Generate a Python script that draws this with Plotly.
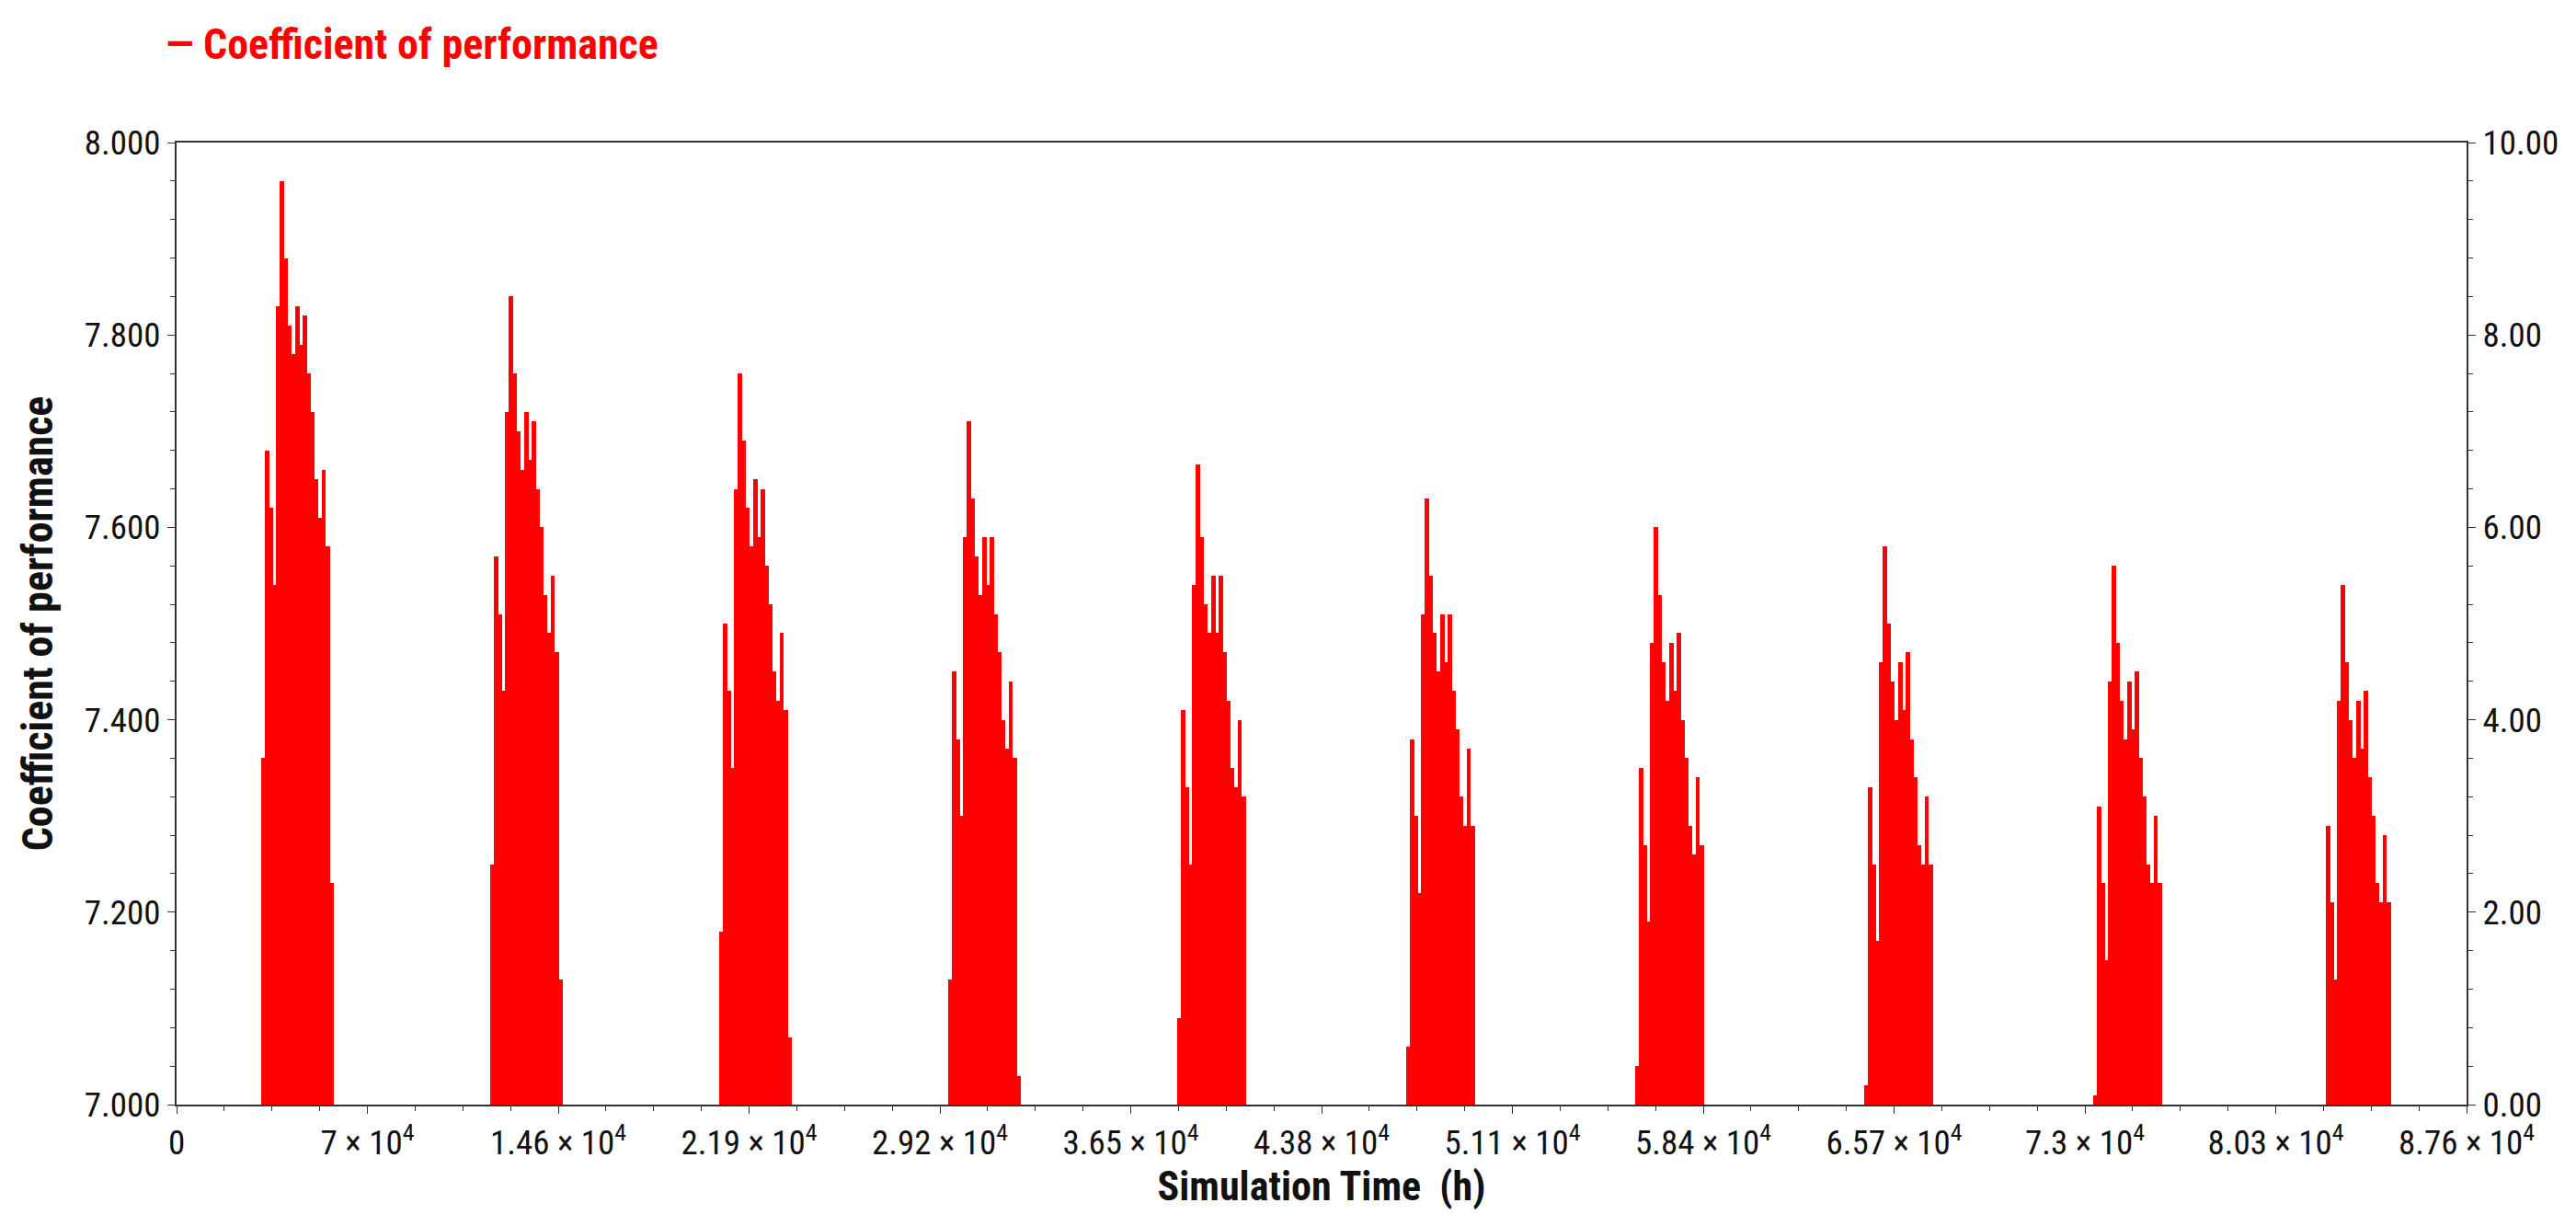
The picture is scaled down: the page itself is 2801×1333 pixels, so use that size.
import plotly.graph_objects as go

year_start_h = [3310, 12070, 20830, 29590, 38350, 47110, 55870, 64630, 73390, 82150]
bin_offsets_h = [0, 145, 290, 435, 580, 725, 870, 1015, 1160, 1305, 1450, 1595, 1740, 1885, 2030, 2175, 2320, 2465, 2610]
cop_years = [
    [7.36,7.68,7.62,7.54,7.83,7.96,7.88,7.81,7.78,7.83,7.79,7.82,7.76,7.72,7.65,7.61,7.66,7.58,7.23],
    [7.25,7.57,7.51,7.43,7.72,7.84,7.76,7.70,7.66,7.72,7.67,7.71,7.64,7.60,7.53,7.49,7.55,7.47,7.13],
    [7.18,7.50,7.43,7.35,7.64,7.76,7.69,7.62,7.58,7.65,7.59,7.64,7.56,7.52,7.45,7.42,7.49,7.41,7.07],
    [7.13,7.45,7.38,7.30,7.59,7.71,7.63,7.57,7.53,7.59,7.54,7.59,7.51,7.47,7.40,7.37,7.44,7.36,7.03],
    [7.09,7.41,7.33,7.25,7.54,7.665,7.59,7.52,7.49,7.55,7.49,7.55,7.47,7.42,7.35,7.33,7.40,7.32,7.00],
    [7.06,7.38,7.30,7.22,7.51,7.63,7.55,7.49,7.45,7.51,7.46,7.51,7.43,7.39,7.32,7.29,7.37,7.29,7.00],
    [7.04,7.35,7.27,7.19,7.48,7.60,7.53,7.46,7.42,7.48,7.43,7.49,7.40,7.36,7.29,7.26,7.34,7.27,7.00],
    [7.02,7.33,7.25,7.17,7.46,7.58,7.50,7.44,7.40,7.46,7.41,7.47,7.38,7.34,7.27,7.25,7.32,7.25,7.00],
    [7.01,7.31,7.23,7.15,7.44,7.56,7.48,7.42,7.38,7.44,7.39,7.45,7.36,7.32,7.25,7.23,7.30,7.23,7.00],
    [7.00,7.29,7.21,7.13,7.42,7.54,7.46,7.40,7.36,7.42,7.37,7.43,7.34,7.30,7.23,7.21,7.28,7.21,7.00],
]
x_tickvals = [0, 7300, 14600, 21900, 29200, 36500, 43800, 51100, 58400, 65700, 73000, 80300, 87600]
x_ticktext = ["0", "7 × 10<sup>4</sup>", "1.46 × 10<sup>4</sup>", "2.19 × 10<sup>4</sup>", "2.92 × 10<sup>4</sup>",
              "3.65 × 10<sup>4</sup>", "4.38 × 10<sup>4</sup>", "5.11 × 10<sup>4</sup>", "5.84 × 10<sup>4</sup>",
              "6.57 × 10<sup>4</sup>", "7.3 × 10<sup>4</sup>", "8.03 × 10<sup>4</sup>", "8.76 × 10<sup>4</sup>"]
left_ticks = [7.0, 7.2, 7.4, 7.6, 7.8, 8.0]
left_text = ["7.000", "7.200", "7.400", "7.600", "7.800", "8.000"]
right_ticks = [0, 2, 4, 6, 8, 10]
right_text = ["0.00", "2.00", "4.00", "6.00", "8.00", "10.00"]

xs, ys = [], []
for start, vals in zip(year_start_h, cop_years):
    for off, v in zip(bin_offsets_h, vals):
        xs.append(start + off)
        ys.append(v)

FONT = "Liberation Sans Narrow, Arial Narrow, Roboto Condensed, sans-serif"
L, R, T, B = 184, 127, 147, 140
PW, PH = 2801 - L - R, 1333 - T - B
fig = go.Figure()
fig.add_trace(go.Bar(x=xs, y=[v - 7 for v in ys], base=7, width=165,
                     marker=dict(color="#ff0000", line=dict(width=0)), showlegend=False))
fig.add_trace(go.Scatter(x=[0, 87600], y=[0, 10], yaxis="y2", mode="markers",
                         marker=dict(opacity=0), showlegend=False, hoverinfo="skip"))
axis_common = dict(showline=True, linecolor="#333", linewidth=2, ticks="outside", ticklen=8,
                   tickcolor="#333", showgrid=False, zeroline=False,
                   tickfont=dict(family=FONT, size=37, color="#111"))
fig.update_layout(
    width=2801, height=1333, plot_bgcolor="white", paper_bgcolor="white",
    margin=dict(l=L, r=R, t=T, b=B), bargap=0,
    xaxis=dict(range=[0, 87600], tickvals=x_tickvals, ticktext=x_ticktext, mirror=True,
               minor=dict(ticks="outside", ticklen=5, dtick=1825, tickcolor="#333"),
               title=dict(text="<b>Simulation Time  (h)</b>", standoff=0,
                          font=dict(family=FONT, size=44, color="#111")), **axis_common),
    yaxis=dict(range=[7, 8], tickvals=left_ticks, ticktext=left_text,
               minor=dict(ticks="outside", ticklen=5, dtick=0.04, tickcolor="#333"),
               title=dict(text="<b>Coefficient of performance</b>", standoff=20,
                          font=dict(family=FONT, size=46, color="#111")), **axis_common),
    yaxis2=dict(range=[0, 10], overlaying="y", side="right", tickvals=right_ticks, ticktext=right_text,
                minor=dict(ticks="outside", ticklen=5, dtick=0.4, tickcolor="#333"), **axis_common),
    annotations=[dict(text="<b>— Coefficient of performance</b>", xref="paper", yref="paper",
                      x=(170 - L) / PW, y=(1333 - 40 - B) / PH,
                      showarrow=False, font=dict(family=FONT, size=46, color="#ff0000"),
                      xanchor="left", yanchor="middle")],
)
fig.write_html("out.html")
